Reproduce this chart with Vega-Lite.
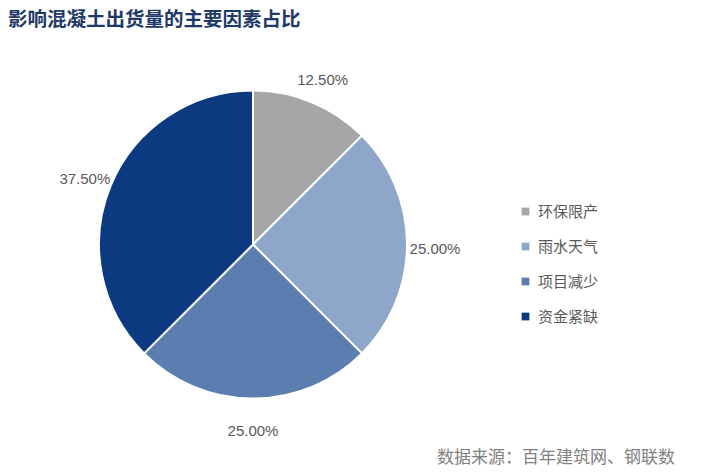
{
  "$schema": "https://vega.github.io/schema/vega-lite/v6.json",
  "background": "white",
  "padding": {"left": 0, "top": 9, "right": 35, "bottom": 3},
  "title": {
    "text": "影响混凝土出货量的主要因素占比",
    "anchor": "start",
    "frame": "group",
    "font": "Noto Sans CJK SC",
    "fontSize": 19.5,
    "fontWeight": "bold",
    "color": "#1F3A68",
    "dx": 8,
    "offset": 13
  },
  "vconcat": [
    {
      "width": 506,
      "height": 403,
      "title": {
        "text": "数据来源：百年建筑网、钢联数",
        "orient": "bottom",
        "anchor": "end",
        "frame": "group",
        "font": "Noto Sans CJK SC",
        "fontSize": 17,
        "fontWeight": "normal",
        "color": "#7F7F7F",
        "baseline": "top",
        "dx": 169,
        "offset": 4
      },
      "data": {
        "values": [
          {"factor": "环保限产", "value": 12.5, "label": "12.50%", "rank": 1},
          {"factor": "雨水天气", "value": 25.0, "label": "25.00%", "rank": 2},
          {"factor": "项目减少", "value": 25.0, "label": "25.00%", "rank": 3},
          {"factor": "资金紧缺", "value": 37.5, "label": "37.50%", "rank": 4}
        ]
      },
      "layer": [
        {
          "mark": {"type": "arc", "outerRadius": 154, "stroke": "white", "strokeWidth": 2},
          "encoding": {
            "theta": {"field": "value", "type": "quantitative", "stack": true},
            "order": {"field": "rank", "type": "quantitative"},
            "color": {
              "field": "factor",
              "type": "nominal",
              "scale": {
                "domain": ["环保限产", "雨水天气", "项目减少", "资金紧缺"],
                "range": ["#A6A6A6", "#8EA6C9", "#5C7DB0", "#0B3A80"]
              },
              "legend": {
                "orient": "none",
                "legendX": 518,
                "legendY": 161,
                "title": null,
                "padding": 0,
                "symbolType": "square",
                "symbolSize": 60,
                "symbolStrokeWidth": 0,
                "labelFont": "Noto Sans CJK SC",
                "labelFontSize": 15,
                "labelColor": "#595959",
                "labelOffset": 5,
                "rowPadding": 19
              }
            }
          }
        },
        {
          "mark": {"type": "text", "radius": 182, "dy": 4, "font": "Liberation Sans", "fontSize": 15, "fill": "#595959"},
          "encoding": {
            "theta": {"field": "value", "type": "quantitative", "stack": true},
            "order": {"field": "rank", "type": "quantitative"},
            "text": {"field": "label", "type": "nominal"}
          }
        }
      ]
    }
  ],
  "config": {"view": {"stroke": null}, "concat": {"spacing": 0}}
}
